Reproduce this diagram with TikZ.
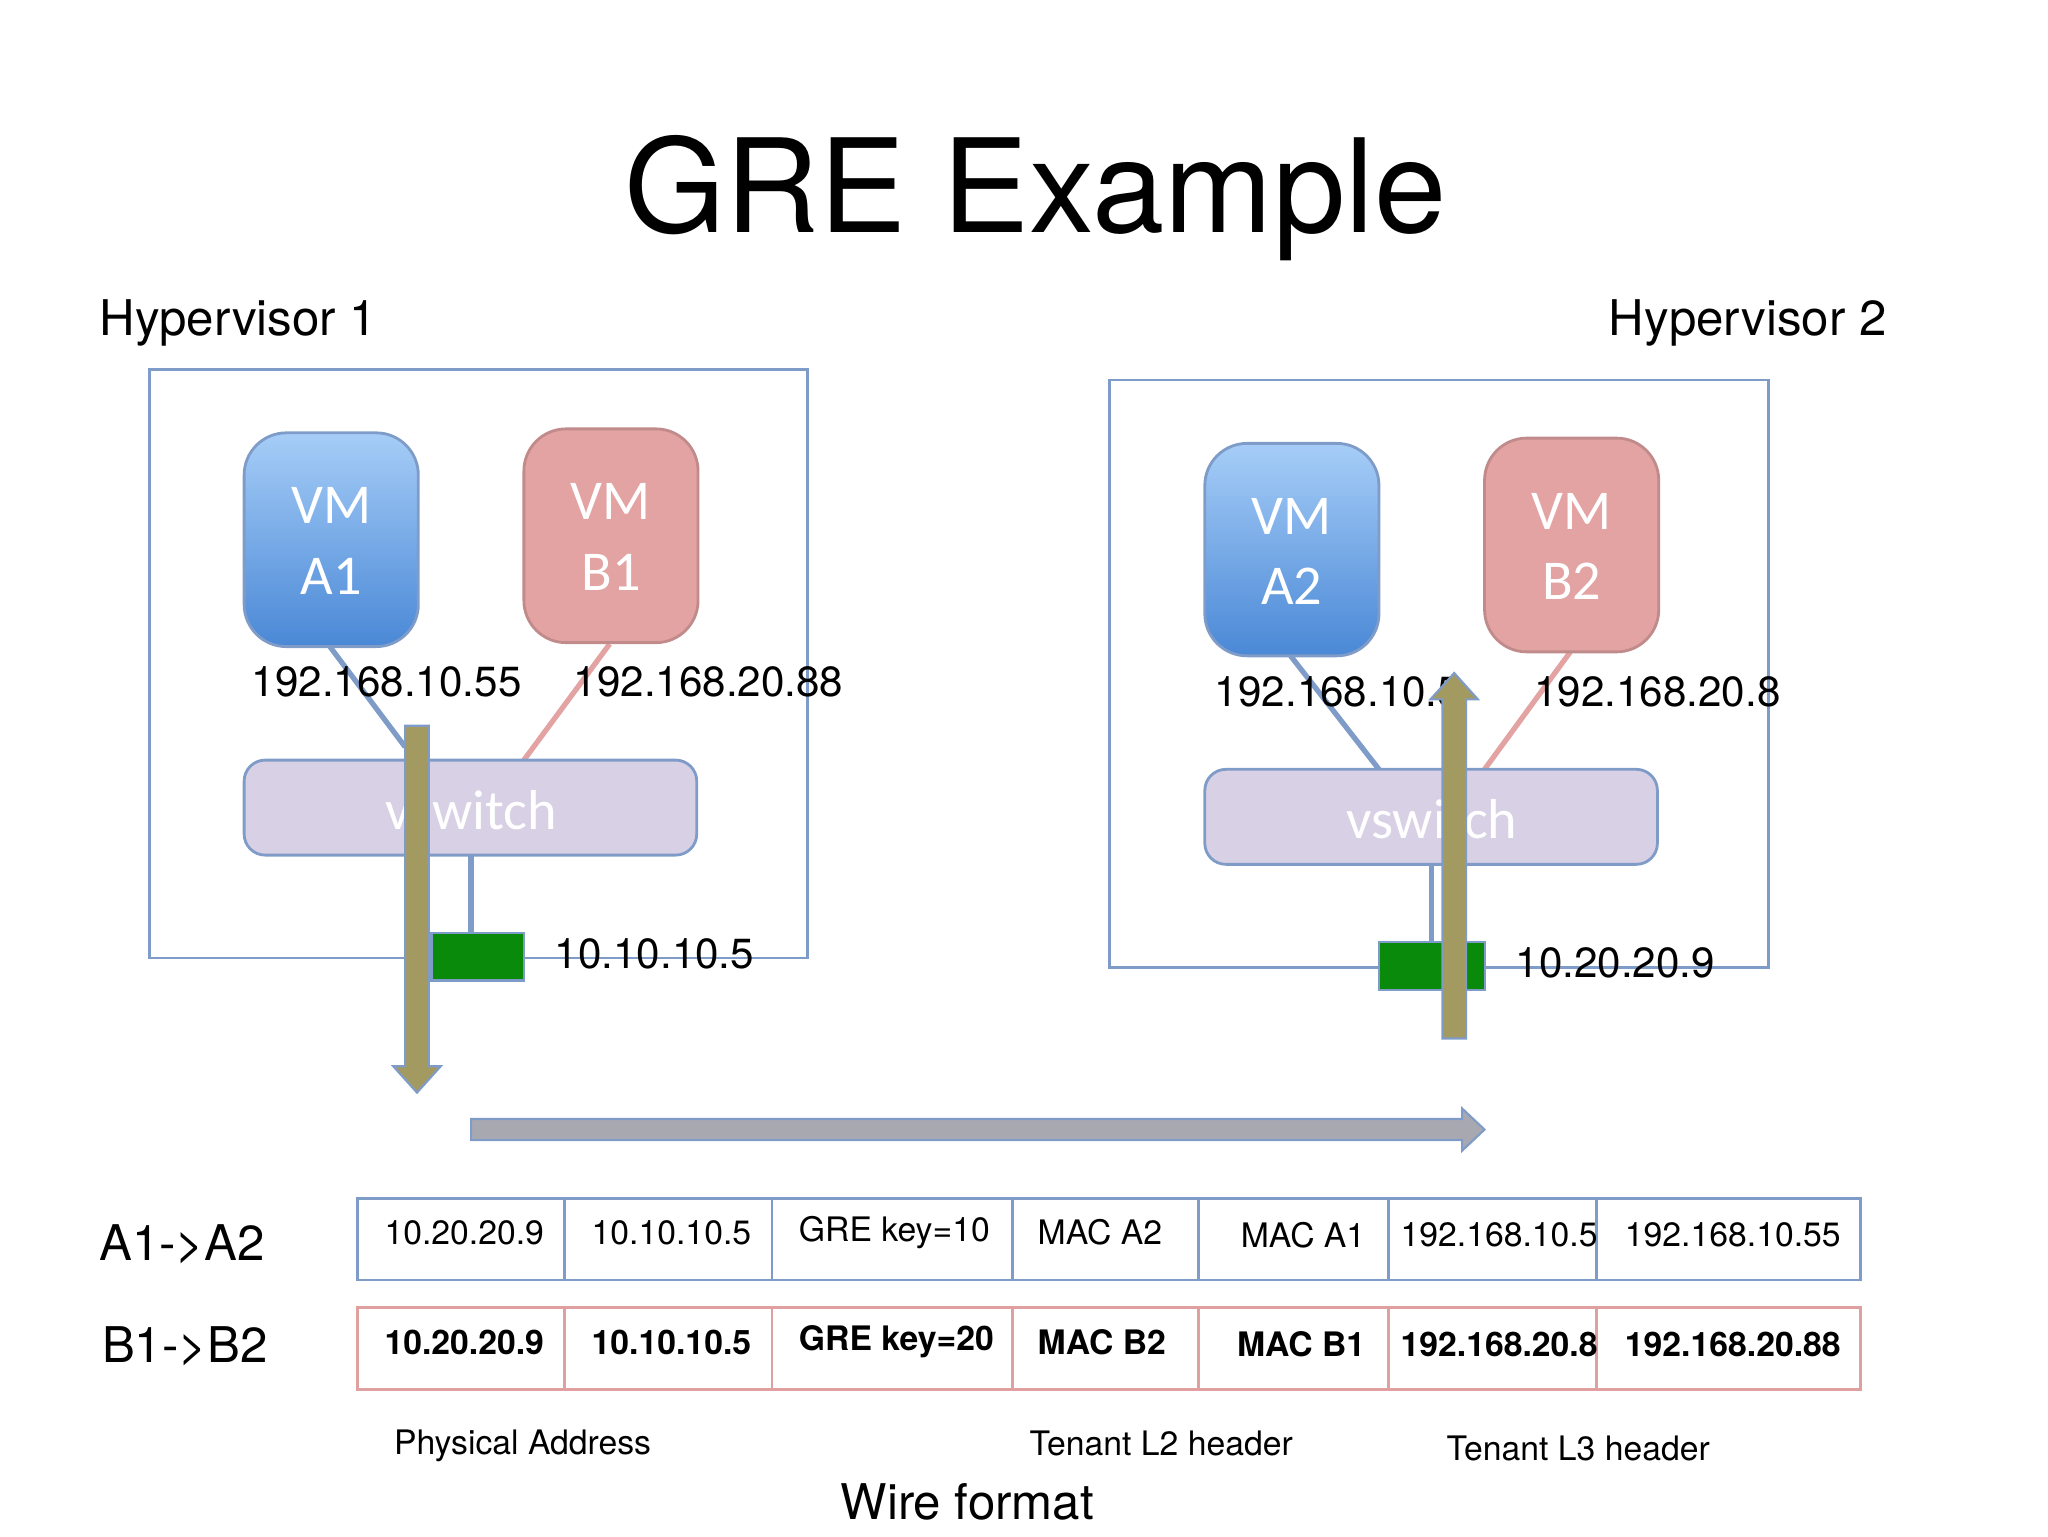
\documentclass[tikz,border=0pt]{standalone}
\usepackage{fontspec}
\setmainfont{TeX Gyre Heros}
\newfontfamily\calfont{Carlito}
\definecolor{hvb}{HTML}{7F9CC8}
\definecolor{vmblueT}{HTML}{A6CDF7}
\definecolor{vmblueB}{HTML}{4A88D6}
\definecolor{vmpink}{HTML}{E2A3A2}
\definecolor{lav}{HTML}{D8D0E4}
\definecolor{olive}{HTML}{A39A62}
\definecolor{gr}{HTML}{0A8A0A}
\definecolor{rowpink}{HTML}{E0A0A0}
\definecolor{grayarrow}{HTML}{A8A9B0}
\tikzset{
 hv/.style={draw=hvb,line width=0.8pt},
 vma/.style={draw=hvb,rounded corners=12pt,top color=vmblueT,bottom color=vmblueB,line width=0.8pt},
 vmb/.style={draw=vmpink!85!black,rounded corners=12pt,fill=vmpink,line width=0.8pt},
 vmtxt/.style={text=white,font=\calfont\fontsize{16}{20}\selectfont,align=center},
 sw/.style={draw=hvb,rounded corners=6pt,fill=lav,line width=0.8pt},
 ip/.style={font=\fontsize{12}{14}\selectfont},
 gbox/.style={draw=hvb,fill=gr,line width=0.6pt},
 cellA/.style={draw=hvb,line width=0.8pt},
 cellB/.style={draw=rowpink,line width=0.8pt},
 ct/.style={font=\fontsize{9.6}{12}\selectfont},
 ctb/.style={font=\bfseries\fontsize{9.6}{12}\selectfont},
 oarrow/.style={fill=olive,draw=hvb,line width=0.6pt},
 garrow/.style={fill=grayarrow,draw=hvb,line width=0.6pt},
 lab/.style={font=\fontsize{14}{17}\selectfont},
 small/.style={font=\fontsize{9.6}{12}\selectfont},
}
\begin{document}
\begin{tikzpicture}[x=0.013196cm,y=-0.013196cm]
\useasboundingbox (0,0) rectangle (1552,1164);
\node (title) at (785,150) {\fontsize{37}{44}\selectfont GRE Example};
\node[anchor=west,lab] (h1) at (66,245) {Hypervisor 1};
\node[anchor=east,lab] (h2) at (1439,245) {Hypervisor 2};
\draw[hv] (113,280) rectangle (612,726);
\draw[hv] (841,288) rectangle (1340,733);
% hyp1
\draw[hvb,line width=1.5pt] (250,490) -- (307,566);
\draw[vmpink,line width=1.5pt] (462,488) -- (397,576);
\draw[hvb,line width=1.5pt] (357,648) -- (357,707);
\filldraw[vma] (185,328) rectangle (317,490);
\node[vmtxt] (a1t) at (251,410) {VM\\A1};
\filldraw[vmb] (397,325) rectangle (529,487);
\node[vmtxt] (b1t) at (463,407) {VM\\B1};
\filldraw[sw] (185,576) rectangle (528,648);
\node[vmtxt] (sw1) at (357,614) {vswitch};
\filldraw[gbox] (327,707) rectangle (397,743);
\node[ip] (g1) at (496,723) {10.10.10.5};
\node[ip] (ip1) at (293,517) {192.168.10.55};
\node[ip] (ip2) at (537,517) {192.168.20.88};
% hyp2
\draw[hvb,line width=1.5pt] (978,497) -- (1045,583);
\draw[vmpink,line width=1.5pt] (1190,494) -- (1125,583);
\draw[hvb,line width=1.5pt] (1085,655) -- (1085,714);
\filldraw[vma] (913,336) rectangle (1045,497);
\node[vmtxt] (a2t) at (979,418) {VM\\A2};
\filldraw[vmb] (1125,332) rectangle (1257,494);
\node[vmtxt] (b2t) at (1191,414) {VM\\B2};
\filldraw[sw] (913,583) rectangle (1256,655);
\node[vmtxt] (sw2) at (1085,621) {vswitch};
\filldraw[gbox] (1045,714) rectangle (1125,750);
\node[ip] (g2) at (1224,730) {10.20.20.9};
\node[ip] (ip3) at (1014,524) {192.168.10.5};
\node[ip] (ip4) at (1256,524) {192.168.20.8};
% arrows
\filldraw[oarrow] (307,550) -- (325,550) -- (325,808) -- (334,808) -- (316,828) -- (298,808) -- (307,808) -- cycle;
\filldraw[oarrow] (1093,787) -- (1111,787) -- (1111,530) -- (1120,530) -- (1102,510) -- (1084,530) -- (1093,530) -- cycle;
\filldraw[garrow] (357,848) -- (1108,848) -- (1108,840) -- (1125,856) -- (1108,872) -- (1108,864) -- (357,864) -- cycle;
% table
\node[lab] (r1) at (138,943) {A1->A2};
\node[lab] (r2) at (140,1020) {B1->B2};
\foreach \a/\b in {271/428, 428/585, 585/767, 767/908, 908/1052, 1052/1210, 1210/1410}{
 \draw[cellA] (\a,908) rectangle (\b,970);
 \draw[cellB] (\a,991) rectangle (\b,1053);
}
\node[ct,anchor=west] (c11) at (282,934) {10.20.20.9};
\node[ct,anchor=west] (c12) at (439,934) {10.10.10.5};
\node[ct,anchor=west] (c13) at (596,934) {GRE key=10};
\node[ct,anchor=west] (c14) at (777,934) {MAC A2};
\node[ct,anchor=east] (c15) at (1044,936) {MAC A1};
\node[ct,anchor=west] (c16) at (1052,936) {192.168.10.5};
\node[ct,anchor=west] (c17) at (1222,936) {192.168.10.55};
\node[ctb,anchor=west] (c21) at (282,1017) {10.20.20.9};
\node[ctb,anchor=west] (c22) at (439,1017) {10.10.10.5};
\node[ctb,anchor=west] (c23) at (596,1017) {GRE key=20};
\node[ctb,anchor=west] (c24) at (777,1017) {MAC B2};
\node[ctb,anchor=east] (c25) at (1044,1019) {MAC B1};
\node[ctb,anchor=west] (c26) at (1052,1019) {192.168.20.8};
\node[ctb,anchor=west] (c27) at (1222,1019) {192.168.20.88};
\node[small] (pa) at (396,1096) {Physical Address};
\node[small] (l2) at (880,1094) {Tenant L2 header};
\node[small] (l3) at (1196,1098) {Tenant L3 header};
\node[font=\fontsize{14}{17}\selectfont] (wf) at (733,1138) {Wire format};
\end{tikzpicture}
\end{document}
